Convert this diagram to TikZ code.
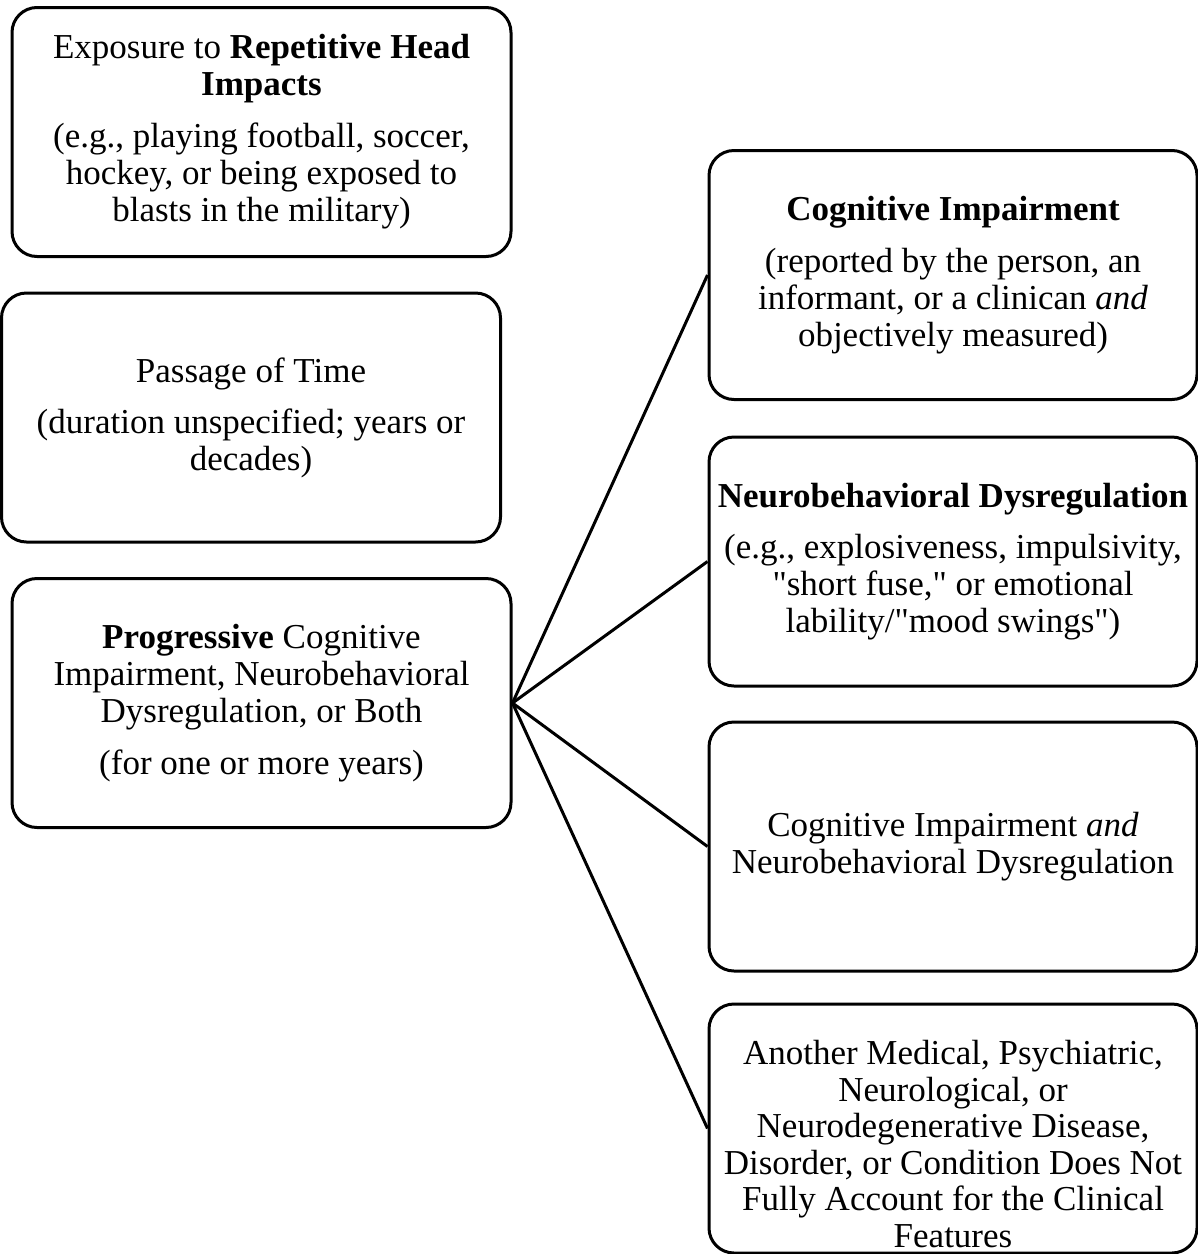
\documentclass[tikz,border=0pt]{standalone}
\usepackage{fontspec}
\setmainfont{Liberation Serif}[Ligatures=TeXOff]
\begin{document}
\begin{tikzpicture}[x=1pt,y=-1pt]
\tikzset{
  box/.style={draw, line width=3pt, rounded corners=25pt, inner sep=2pt,
    align=center, font=\fontsize{35}{37}\selectfont},
  lbox/.style={box, minimum width=499pt, minimum height=249pt},
  rbox/.style={box, minimum width=488pt, minimum height=249pt},
  txt/.style={align=center, inner sep=0pt, font=\fontsize{35}{36.6}\selectfont},
  conn/.style={line width=3pt}
}
\useasboundingbox (0,0) rectangle (1198,1254);

\node[lbox] (expo) at (261.5,132) {Exposure to \textbf{Repetitive Head}\\ \textbf{Impacts}\\[15pt]
(e.g., playing football, soccer,\\ hockey, or being exposed to\\ blasts in the military)};

\node[lbox] (time) at (251,417.5) {Passage of Time\\[14pt]
(duration unspecified; years or\\ decades)};

\node[lbox] (prog) at (261.5,703) {\textbf{Progressive} Cognitive\\ Impairment, Neurobehavioral\\ Dysregulation, or Both\\[15pt]
(for one or more years)};

\node[rbox] (cog) at (953,275) {\textbf{Cognitive Impairment}\\[15pt]
(reported by the person, an\\ informant, or a clinican \textit{and}\\ objectively measured)};

\node[rbox] (neuro) at (953,561.5) {\textbf{Neurobehavioral Dysregulation}\\[14pt]
(e.g., explosiveness, impulsivity,\\ "short fuse," or emotional\\ lability/"mood swings")};

\node[rbox] (both) at (953,846.5) {Cognitive Impairment \textit{and}\\ Neurobehavioral Dysregulation};

\node[rbox] (other) at (953,1128.5) {};
\node[txt] (othertxt) at (953,1144) {Another Medical, Psychiatric,\\ Neurological, or\\ Neurodegenerative Disease,\\ Disorder, or Condition Does Not\\ Fully Account for the Clinical\\ Features};

\draw[conn] (prog.east) -- (cog.west);
\draw[conn] (prog.east) -- (neuro.west);
\draw[conn] (prog.east) -- (both.west);
\draw[conn] (prog.east) -- (other.west);
\end{tikzpicture}
\end{document}
